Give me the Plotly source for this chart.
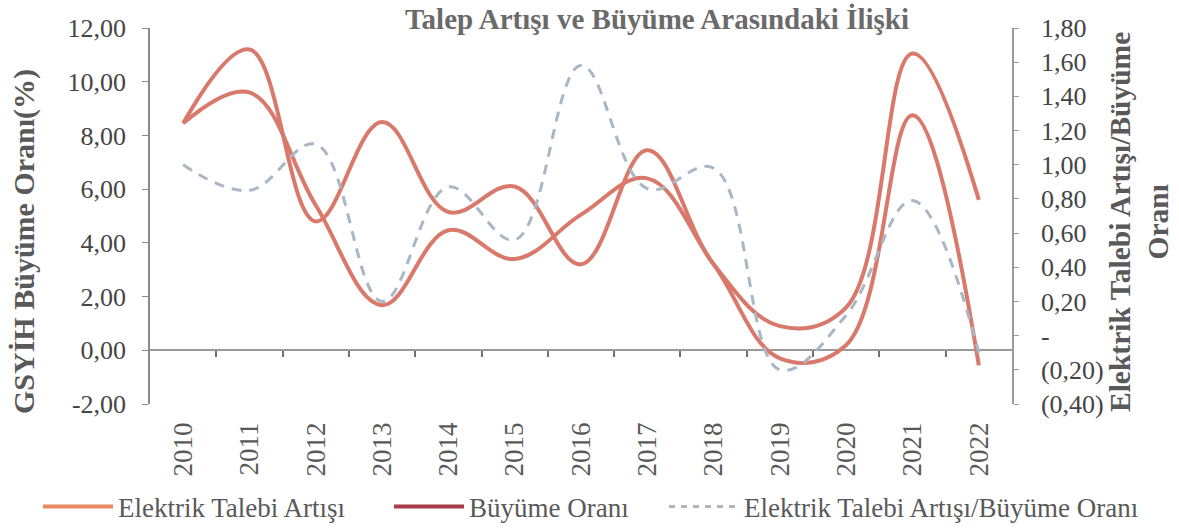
import plotly.graph_objects as go

years = ["2010", "2011", "2012", "2013", "2014", "2015", "2016",
         "2017", "2018", "2019", "2020", "2021", "2022"]
talep_artisi = [8.45, 9.6, 5.4, 1.68, 4.47, 3.4, 5.05, 6.4, 3.2, -0.3, 0.2, 8.75, -0.56]
buyume_orani = [8.45, 11.2, 4.8, 8.5, 5.15, 6.1, 3.2, 7.45, 3.2, 0.9, 1.6, 11.05, 5.6]
oran = [1.0, 0.85, 1.12, 0.2, 0.87, 0.56, 1.58, 0.86, 0.98, -0.2, 0.12, 0.79, -0.1]

left_ticks = [-2, 0, 2, 4, 6, 8, 10, 12]
left_ticktext = ["-2,00", "0,00", "2,00", "4,00", "6,00", "8,00", "10,00", "12,00"]
right_ticks = [-0.4, -0.2, 0, 0.2, 0.4, 0.6, 0.8, 1.0, 1.2, 1.4, 1.6, 1.8]
right_ticktext = ["(0,40)", "(0,20)", "-", "0,20", "0,40", "0,60", "0,80",
                  "1,00", "1,20", "1,40", "1,60", "1,80"]

FONT = "Liberation Serif"
GRAY = "#595959"
DARK = "#454545"
LINE = "#D9796B"

W, H = 1179, 528
L, R, T, B = 150, 167, 28, 124
pw, ph = W - L - R, H - T - B


def px_x(p):
    return (p - L) / pw


def px_y(p):
    return (H - B - p) / ph


fig = go.Figure()

fig.add_trace(go.Scatter(x=years, y=talep_artisi, mode="lines", name="Elektrik Talebi Artışı",
                         line=dict(color=LINE, width=4, shape="spline", smoothing=1.1),
                         showlegend=False))
fig.add_trace(go.Scatter(x=years, y=buyume_orani, mode="lines", name="Büyüme Oranı",
                         line=dict(color=LINE, width=4, shape="spline", smoothing=1.1),
                         showlegend=False))
fig.add_trace(go.Scatter(x=years, y=oran, mode="lines", name="Elektrik Talebi Artışı/Büyüme Oranı",
                         yaxis="y2",
                         line=dict(color="#A9B7C5", width=3, dash="10px,8px", shape="spline", smoothing=1.1),
                         showlegend=False))
# empty trace so the overlaid tick axis (x2) is rendered
fig.add_trace(go.Scatter(x=[None], y=[None], xaxis="x2", yaxis="y", mode="lines",
                         showlegend=False, hoverinfo="skip"))

# legend entries (legend colours of the reference)
fig.add_trace(go.Scatter(x=[None], y=[None], mode="lines", name="Elektrik Talebi Artışı",
                         line=dict(color="#E8895F", width=4), legend="legend"))
fig.add_trace(go.Scatter(x=[None], y=[None], mode="lines", name="Büyüme Oranı",
                         line=dict(color="#A83C4A", width=4), legend="legend2"))
fig.add_trace(go.Scatter(x=[None], y=[None], mode="lines", name="Elektrik Talebi Artışı/Büyüme Oranı",
                         line=dict(color="#B5B5B5", width=3, dash="6px,6px"), legend="legend3"))

legend_common = dict(orientation="h", xref="container", yref="container",
                     yanchor="middle", y=1 - 507 / H, xanchor="left",
                     itemwidth=70,
                     font=dict(family=FONT, size=27, color=GRAY), bgcolor="rgba(0,0,0,0)")

fig.update_layout(
    width=W, height=H,
    margin=dict(l=L, r=R, t=T, b=B, pad=0, autoexpand=False),
    paper_bgcolor="white", plot_bgcolor="white",
    font=dict(family=FONT, color=GRAY),
    title=dict(text="<b>Talep Artışı ve Büyüme Arasındaki İlişki</b>",
               x=657 / W, xanchor="center", xref="container",
               y=1 - 19 / H, yanchor="middle",
               font=dict(family=FONT, size=29, color="#6A6A6A")),
    xaxis=dict(type="category", range=[-0.5, 12.5], showgrid=False, showline=False, ticks="",
               tickangle=-90, tickfont=dict(family=FONT, size=27, color=GRAY),
               ticklabelstandoff=12, automargin=False),
    xaxis2=dict(overlaying="x", anchor="free", position=px_y(350), range=[-0.5, 12.5],
                tickvals=[i + 0.5 for i in range(12)], ticks="outside", ticklen=6,
                tickcolor="#707070", tickwidth=1.5, showticklabels=False, showgrid=False,
                showline=False, zeroline=False, automargin=False),
    yaxis=dict(range=[-2, 12], tickvals=left_ticks, ticktext=left_ticktext,
               showgrid=False, zeroline=True, zerolinecolor="#9A9A9A", zerolinewidth=1.5,
               showline=True, linecolor="#8A8A8A", linewidth=1.5,
               ticks="outside", ticklen=6, tickcolor="#8A8A8A",
               tickfont=dict(family=FONT, size=26, color=DARK), ticklabelstandoff=11,
               automargin=False),
    yaxis2=dict(range=[-0.4, 1.8], overlaying="y", side="right",
                tickvals=right_ticks, ticktext=right_ticktext,
                showgrid=False, zeroline=False,
                showline=True, linecolor="#9A9A9A", linewidth=1.5,
                ticks="outside", ticklen=5, tickcolor="#9A9A9A",
                tickfont=dict(family=FONT, size=26, color=DARK), ticklabelstandoff=17,
                automargin=False),
    legend=dict(x=38 / W, **legend_common),
    legend2=dict(x=389 / W, **legend_common),
    legend3=dict(x=664 / W, **legend_common),
    annotations=[
        dict(text="<b>GSYİH Büyüme Oranı(%)</b>", xref="paper", yref="paper",
             x=px_x(24), y=px_y(242), textangle=-90, showarrow=False,
             xanchor="center", yanchor="middle",
             font=dict(family=FONT, size=30, color=GRAY)),
        dict(text="<b>Elektrik Talebi Artışı/Büyüme<br>Oranı</b>", xref="paper", yref="paper",
             x=px_x(1139), y=px_y(222), textangle=-90, showarrow=False,
             xanchor="center", yanchor="middle",
             font=dict(family=FONT, size=29.5, color=GRAY)),
    ],
)

fig.write_html("out.html", config={"displayModeBar": False},
               post_script="document.body.style.margin='0';document.body.style.padding='0';")
